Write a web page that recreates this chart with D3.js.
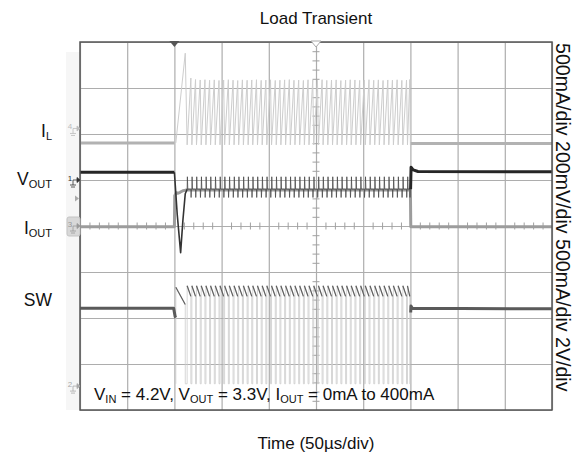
<!DOCTYPE html>
<html><head><meta charset="utf-8">
<script src="https://cdn.jsdelivr.net/npm/d3@7/dist/d3.min.js"></script>
<style>
body{margin:0;background:#fff}
text{font-family:Arial,"Liberation Sans",sans-serif;fill:#111}
</style></head>
<body><svg id="c" width="575" height="459"></svg>
<script>
// ---------- data ----------
const chartTitle = "Load Transient";
const xTitle = "Time (50µs/div)";
const scaleText = "500mA/div 200mV/div 500mA/div 2V/div";
const timeDomain = [0, 500];                       // µs, 50 µs/div
const gridTimes = [0,50,100,150,200,250,300,350,400,450,500];
const gridDivs = [0,1,2,3,4,5,6,7,8];
const minorTimes = [10,20,30,40,60,70,80,90,110,120,130,140,160,170,180,190,210,220,230,240,260,270,280,290,310,320,330,340,360,370,380,390,410,420,430,440,460,470,480,490];
const minorDivs = [0.2,0.4,0.6,0.8,1.2,1.4,1.6,1.8,2.2,2.4,2.6,2.8,3.2,3.4,3.6,3.8,4.2,4.4,4.6,4.8,5.2,5.4,5.6,5.8,6.2,6.4,6.6,6.8,7.2,7.4,7.6,7.8];

// channels: IL (ch4), VOUT (ch1), IOUT (ch3), SW (ch2)
const chNames = ["IL","VOUT","IOUT","SW"];
const chZeroDiv = [6.12, 5.0, 4.0, 0.52];          // ground marker position (div)
const chPerDiv = [500, 200, 500, 2];               // mA, mV, mA, V per div

// load step on at 100 µs, off at 350 µs
const loadOn = 100, loadOff = 350;

// switching cycles during the load (µs)
const cycleStart = [101.5,113.5,118.5,123.4,128.4,133.4,138.3,143.3,148.3,153.2,158.2,163.2,168.1,173.1,178.1,183.0,188.0,193.0,197.9,202.9,207.9,212.8,217.8,222.8,227.7,232.7,237.7,242.6,247.6,252.6,257.5,262.5,267.5,272.4,277.4,282.4,287.3,292.3,297.3,302.2,307.2,312.2,317.1,322.1,327.1,332.0,337.0,342.0,346.9];
const ilPeak = [818,548,532,527,530,524,528,522,526,530,525,521,528,524,527,530,523,526,529,522,525,528,531,524,526,522,529,527,524,530,523,526,528,521,525,529,527,523,526,530,524,528,522,527,525,529,523,526,532];
const ilValley = -178;                              // mA
const firstOnTime = 10;                             // µs
const dutyCycle = 0.79;
const swHighStart = [4.3, 4.36];                   // V (first cycle, others)
const swHighEnd = [3.55, 3.9];                     // V
const swLow = 0.1;                                 // V
const voutRipple = [-40, 14, -76];                 // mV: level, up spike, down spike

// static / transition pieces  [time µs, value]
const ilBefore = [[0,-157],[100,-157]];
const ilAfter = [[350.3,-163],[500,-163]];
const voutBefore = [[0,34],[100,34]];
const voutDip = [[100,34],[103,-150],[106.6,-316],[109,-175],[111.5,-60],[113.5,-40]];
const voutAfter = [[350.2,-40],[350.7,55],[353,44],[358,37],[500,36]];
const ioutTrace = [[0,-8],[100,-8],[100.4,330],[102,362],[104,356],[106,366],[109,384],[112,390],[350,390],[350.4,-8],[500,-8]];
const swBefore = [[0,3.38],[99.2,3.38],[100.8,3.02],[101.5,2.98]];
const swAfter = [[350.3,3.2],[350.6,3.48],[352,3.38],[500,3.36]];

// ---------- drawing ----------
const svg = d3.select("#c");
const L = 80, R = 552, T = 42, B = 410;
const x = d3.scaleLinear().domain(timeDomain).range([L, R]);
const y = d3.scaleLinear().domain([0, 8]).range([B, T]);
const cy = (ch, v) => y(chZeroDiv[ch] + v / chPerDiv[ch]);
const line = ch => d3.line().x(d => x(d[0])).y(d => cy(ch, d[1]));

// faint strip left of the graticule
svg.append("rect").attr("x", 66).attr("y", 52).attr("width", 14).attr("height", 358).attr("fill", "#f6f6f6");

// grid
const gx = svg.append("g").attr("transform", `translate(0,${B})`)
  .call(d3.axisBottom(x).tickValues(gridTimes).tickSize(-(B - T)).tickFormat(""));
const gy = svg.append("g").attr("transform", `translate(${L},0)`)
  .call(d3.axisLeft(y).tickValues(gridDivs).tickSize(-(R - L)).tickFormat(""));
[gx, gy].forEach(g => { g.select(".domain").remove(); g.selectAll("line").attr("stroke", "#adadad").attr("stroke-width", 1.2); });

// center axes minor ticks
const cxT = x(250), cyT = y(4);
[d3.axisBottom, d3.axisTop].forEach(ax => {
  const g = svg.append("g").attr("transform", `translate(0,${cyT})`)
    .call(ax(x).tickValues(minorTimes).tickSize(3.5).tickFormat(""));
  g.select(".domain").remove(); g.selectAll("line").attr("stroke", "#a0a0a0");
});
[d3.axisRight, d3.axisLeft].forEach(ax => {
  const g = svg.append("g").attr("transform", `translate(${cxT},0)`)
    .call(ax(y).tickValues(minorDivs).tickSize(3.5).tickFormat(""));
  g.select(".domain").remove(); g.selectAll("line").attr("stroke", "#a0a0a0");
});

// build switching traces from the cycle arrays
const ilSw = [], swHigh = [], swFull = [], voutSw = [];
cycleStart.forEach((t0, i) => {
  const t1 = i < cycleStart.length - 1 ? cycleStart[i + 1] : loadOff;
  const on = i === 0 ? firstOnTime : dutyCycle * (t1 - t0);
  const k = i === 0 ? 0 : 1;
  ilSw.push([t0, i === 0 ? -157 : ilValley], [t0 + on, ilPeak[i]]);
  swFull.push([t0, swLow], [t0, swHighStart[k]], [t0 + on, swHighEnd[k]], [t0 + on, swLow], [t1, swLow]);
  swHigh.push([[t0, swHighStart[k]], [t0 + on, swHighEnd[k]]]);
  if (i > 0) {
    voutSw.push([t0, voutRipple[0]], [t0 + 0.25, voutRipple[1]], [t0 + 0.7, voutRipple[0]],
                [t0 + on, voutRipple[0]], [t0 + on + 0.25, voutRipple[2]], [t0 + on + 0.6, voutRipple[0]]);
  }
});
ilSw.push([loadOff, ilValley]);
voutSw.push([loadOff, voutRipple[0]]);

const path = (data, ch, color, w) => svg.append("path").datum(data).attr("d", line(ch))
  .attr("fill", "none").attr("stroke", color).attr("stroke-width", w).attr("stroke-linejoin", "round");

// SW (ch2)
path(swFull, 3, "#cbcbcb", 0.8);
swHigh.forEach(s => path(s, 3, "#5e5e5e", 1.2));
path(swBefore, 3, "#5a5a5a", 3);
path(swAfter, 3, "#5a5a5a", 3);
// IL (ch4)
path(ilSw, 0, "#cdcdcd", 1);
path(ilBefore, 0, "#b2b2b2", 3);
path(ilAfter, 0, "#b2b2b2", 3);
// IOUT (ch3)
path(ioutTrace, 2, "#9c9c9c", 3);
// VOUT (ch1)
path(voutSw, 1, "#4a4a4a", 0.8);
path(voutDip, 1, "#333", 1.6);
path(voutBefore, 1, "#262626", 3);
path(voutAfter, 1, "#262626", 3);

// frame
svg.append("rect").attr("x", L).attr("y", T).attr("width", R - L).attr("height", B - T)
  .attr("fill", "none").attr("stroke", "#555").attr("stroke-width", 1.5);

// trigger markers on top edge
svg.append("path").attr("d", `M${x(loadOn)-5},${T-1}h10l-5,6z`).attr("fill", "#555");
svg.append("path").attr("d", `M${cxT-5},${T-1}h10l-5,6z`).attr("fill", "#fff").attr("stroke", "#aaa");

// channel ground markers on left edge
const markerStyle = [["4", "#bdbdbd"], ["1", "#333"], ["3", "#999"], ["2", "#aaa"]];
chZeroDiv.forEach((d, i) => {
  const yy = y(d), g = svg.append("g");
  if (i === 2) g.append("rect").attr("x", 67).attr("y", yy - 9).attr("width", 13).attr("height", 19).attr("rx", 2).attr("fill", "#d8d8d8").attr("stroke", "#c4c4c4");
  g.append("text").attr("x", 70).attr("y", yy + 1).attr("font-size", 8).attr("text-anchor", "middle").style("fill", markerStyle[i][1]).text(markerStyle[i][0]);
  g.append("path").attr("d", `M73,${yy}h4M77,${yy-2.5}l3,2.5l-3,2.5zM73,${yy}v5M70,${yy+5}h6M71,${yy+7}h4`).attr("stroke", markerStyle[i][1]).attr("fill", markerStyle[i][1]).attr("stroke-width", 0.8);
});
svg.append("path").attr("d", `M75,${y(4.6)-3}l4,3l-4,3z`).attr("fill", "#aaa");

// titles
svg.append("text").attr("x", cxT).attr("y", 24).attr("text-anchor", "middle").attr("font-size", 17).text(chartTitle);
svg.append("text").attr("x", cxT).attr("y", 449).attr("text-anchor", "middle").attr("font-size", 17).text(xTitle);
svg.append("text").attr("transform", `translate(556,${T + 1}) rotate(90)`).attr("font-size", 19.6).text(scaleText);

// left channel labels
const labelMain = ["I", "V", "I", "SW"], labelSub = ["L", "OUT", "OUT", ""];
const labelBase = [137, 185, 234, 306];
labelMain.forEach((m, i) => {
  const t = svg.append("text").attr("x", 52).attr("y", labelBase[i]).attr("text-anchor", "end").attr("font-size", 17.5);
  t.append("tspan").text(m);
  if (labelSub[i]) t.append("tspan").attr("font-size", 11).attr("dy", 3).text(labelSub[i]);
});

// condition annotation
const ann = svg.append("text").attr("x", 94).attr("y", 400).attr("font-size", 17);
const parts = [["V",0],["IN",1],[" = 4.2V, V",0],["OUT",1],[" = 3.3V, I",0],["OUT",1],[" = 0mA to 400mA",0]];
let cur = 0;
parts.forEach(([s, sub]) => {
  const dy = (sub ? 3 : 0) - cur; cur = sub ? 3 : 0;
  ann.append("tspan").attr("dy", dy).attr("font-size", sub ? 11 : 17).text(s);
});
</script></body></html>
